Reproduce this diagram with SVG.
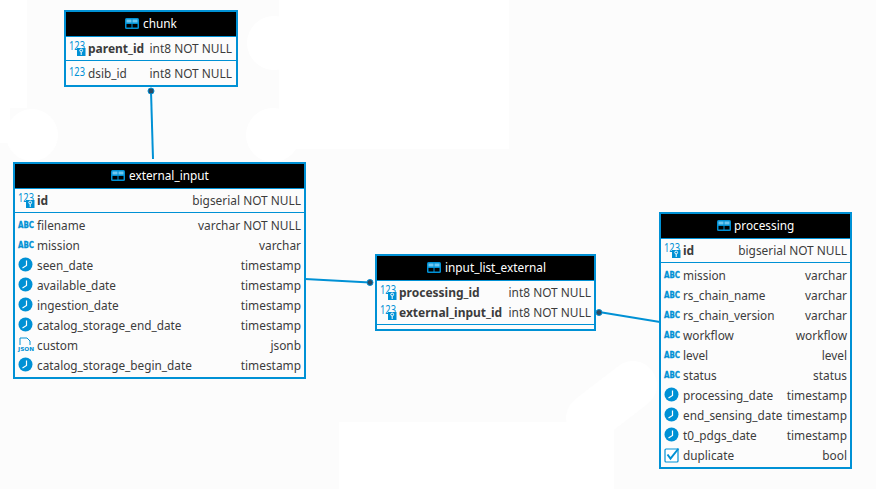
<svg xmlns="http://www.w3.org/2000/svg" width="876" height="489" viewBox="0 0 876 489">
<style>
text{font-family:"Noto Sans","Open Sans",sans-serif;font-size:11.8px;fill:#3c3c3c}
.t{fill:#fff;font-size:11.8px}
.b{font-weight:bold;font-size:12px}
text.r{text-anchor:end;font-size:11.9px}
.box{fill:#fcfcfc;stroke:#0091d5;stroke-width:2}
.sep{stroke:#0091d5;stroke-width:1;fill:none}
.conn{stroke:#0091d5;stroke-width:2;fill:none}
.dot{fill:#2c4a63;stroke:#0091d5;stroke-width:1}
.w{fill:#fff}
text.n{font-size:12px;fill:#0091d5}
text.a{font-size:9px;font-weight:bold;fill:#0091d5;stroke:#0091d5;stroke-width:.3;font-family:"DejaVu Sans",sans-serif}
text.j{font-size:5.5px;font-weight:bold;fill:#0091d5;font-family:"DejaVu Sans",sans-serif}
</style>
<defs>
<g id="tbl"><rect x="0" y="0" width="14" height="11" rx="1.5" fill="#0091d5"/><rect x="1.5" y="1.5" width="5" height="3" fill="#6fc6f0"/><rect x="7.500" y="1.5" width="5" height="3" fill="#6fc6f0"/><rect x="1.5" y="6" width="5" height="3.5" fill="#000"/><rect x="7.500" y="6" width="5" height="3.5" fill="#000"/></g>
<g id="num"><text class="n" x="0" y="0" textLength="16" lengthAdjust="spacingAndGlyphs">123</text></g>
<g id="key"><text class="n" x="0" y="0" textLength="16" lengthAdjust="spacingAndGlyphs">123</text><rect x="8" y="-2" width="8.5" height="8" fill="#0091d5"/><circle cx="12.200" cy="0.5" r="1.4" fill="none" stroke="#fff"/><path d="M12.200 2V5" stroke="#fff" fill="none"/></g>
<g id="abc"><text class="a" x="0" y="0" textLength="16" lengthAdjust="spacingAndGlyphs">ABC</text></g>
<g id="clk"><circle cx="0" cy="0" r="7" fill="#0091d5"/><path d="M1 -4V1L-3 3.5" stroke="#fff" stroke-width="1.2" fill="none"/></g>
<g id="json"><path d="M-5 0V-7H2L5 -4V0" stroke="#0091d5" fill="none"/><text class="j" x="-7" y="6" textLength="16" lengthAdjust="spacingAndGlyphs">JSON</text></g>
<g id="chk"><rect x="-6.5" y="-6.5" width="13" height="13" rx="1" fill="#fff" stroke="#0091d5" stroke-width="1.2"/><path d="M-4 -1L-1 3L7 -7" stroke="#0091d5" stroke-width="2" fill="none"/></g>
</defs>
<rect width="876" height="489" fill="#fcfcfc"/>
<rect class="w" x="0" y="0" width="27" height="108"/>
<rect class="w" x="0" y="108" width="10" height="35"/>
<circle class="w" cx="32" cy="135" r="26"/>
<rect class="w" x="279" y="0" width="230" height="149"/>
<circle class="w" cx="274" cy="43" r="27"/>
<circle class="w" cx="273" cy="135" r="27"/>
<rect class="w" x="339" y="422" width="275" height="67"/>
<path d="M633 385L590 418" stroke="#fff" stroke-width="48" stroke-linecap="round" fill="none"/>
<g id="connectors">
<path class="conn" d="M151 91L153 159"/>
<path class="conn" d="M305 279L370 282.500"/>
<path class="conn" d="M599 312L660 322"/>
<circle class="dot" cx="151" cy="91" r="3"/>
<circle class="dot" cx="370" cy="282.500" r="3"/>
<circle class="dot" cx="599" cy="312.500" r="3"/>
</g>
<g id="chunk">
<rect class="box" x="65" y="11" width="172" height="75"/>
<rect x="66" y="12" width="170" height="24"/>
<use href="#tbl" x="125" y="18"/>
<text class="t" x="143" y="28">chunk</text>
<path class="sep" d="M66 36.500H236M66 60.500H236"/>
<use href="#key" x="69" y="50"/><text class="b" x="88" y="53">parent_id</text><text class="r" x="232" y="53">int8 NOT NULL</text>
<use href="#num" x="69" y="76"/><text x="88" y="78">dsib_id</text><text class="r" x="232" y="78">int8 NOT NULL</text>
</g>
<g id="external_input">
<rect class="box" x="14" y="163" width="291" height="215"/>
<rect x="15" y="164" width="289" height="24"/>
<use href="#tbl" x="111" y="170"/>
<text class="t" x="129" y="180">external_input</text>
<path class="sep" d="M15 188.500H304M15 212.500H304"/>
<use href="#key" x="18" y="202"/><text class="b" x="37" y="205">id</text><text class="r" x="301" y="205">bigserial NOT NULL</text>
<use href="#abc" x="18" y="228"/><text x="37" y="230">filename</text><text class="r" x="301" y="230">varchar NOT NULL</text>
<use href="#abc" x="18" y="248"/><text x="37" y="250">mission</text><text class="r" x="301" y="250">varchar</text>
<use href="#clk" x="25.500" y="264.500"/><text x="37" y="270">seen_date</text><text class="r" x="301" y="270">timestamp</text>
<use href="#clk" x="25.500" y="284.500"/><text x="37" y="290">available_date</text><text class="r" x="301" y="290">timestamp</text>
<use href="#clk" x="25.500" y="304.500"/><text x="37" y="310">ingestion_date</text><text class="r" x="301" y="310">timestamp</text>
<use href="#clk" x="25.500" y="324.500"/><text x="37" y="330">catalog_storage_end_date</text><text class="r" x="301" y="330">timestamp</text>
<use href="#json" x="25" y="345"/><text x="37" y="350">custom</text><text class="r" x="301" y="350">jsonb</text>
<use href="#clk" x="25.500" y="364.500"/><text x="37" y="370">catalog_storage_begin_date</text><text class="r" x="301" y="370">timestamp</text>
</g>
<g id="input_list_external">
<rect class="box" x="376" y="255" width="219" height="75"/>
<rect x="377" y="256" width="217" height="24"/>
<use href="#tbl" x="427" y="262"/>
<text class="t" x="445" y="272">input_list_external</text>
<path class="sep" d="M377 280.500H594M377 324.500H594"/>
<use href="#key" x="380" y="294"/><text class="b" x="399" y="297">processing_id</text><text class="r" x="591" y="297">int8 NOT NULL</text>
<use href="#key" x="380" y="314"/><text class="b" x="399" y="317">external_input_id</text><text class="r" x="591" y="317">int8 NOT NULL</text>
</g>
<g id="processing">
<rect class="box" x="660" y="213" width="191" height="255"/>
<rect x="661" y="214" width="189" height="24"/>
<use href="#tbl" x="717" y="220"/>
<text class="t" x="734" y="230">processing</text>
<path class="sep" d="M661 238.500H850M661 262.500H850"/>
<use href="#key" x="664" y="252"/><text class="b" x="683" y="255">id</text><text class="r" x="847" y="255">bigserial NOT NULL</text>
<use href="#abc" x="664" y="278"/><text x="683" y="280">mission</text><text class="r" x="847" y="280">varchar</text>
<use href="#abc" x="664" y="298"/><text x="683" y="300">rs_chain_name</text><text class="r" x="847" y="300">varchar</text>
<use href="#abc" x="664" y="318"/><text x="683" y="320">rs_chain_version</text><text class="r" x="847" y="320">varchar</text>
<use href="#abc" x="664" y="338"/><text x="683" y="340">workflow</text><text class="r" x="847" y="340">workflow</text>
<use href="#abc" x="664" y="358"/><text x="683" y="360">level</text><text class="r" x="847" y="360">level</text>
<use href="#abc" x="664" y="378"/><text x="683" y="380">status</text><text class="r" x="847" y="380">status</text>
<use href="#clk" x="671.500" y="394.500"/><text x="683" y="400">processing_date</text><text class="r" x="847" y="400">timestamp</text>
<use href="#clk" x="671.500" y="414.500"/><text x="683" y="420">end_sensing_date</text><text class="r" x="847" y="420">timestamp</text>
<use href="#clk" x="671.500" y="434.500"/><text x="683" y="440">t0_pdgs_date</text><text class="r" x="847" y="440">timestamp</text>
<use href="#chk" x="671.500" y="455.500"/><text x="683" y="460">duplicate</text><text class="r" x="847" y="460">bool</text>
</g>
</svg>
